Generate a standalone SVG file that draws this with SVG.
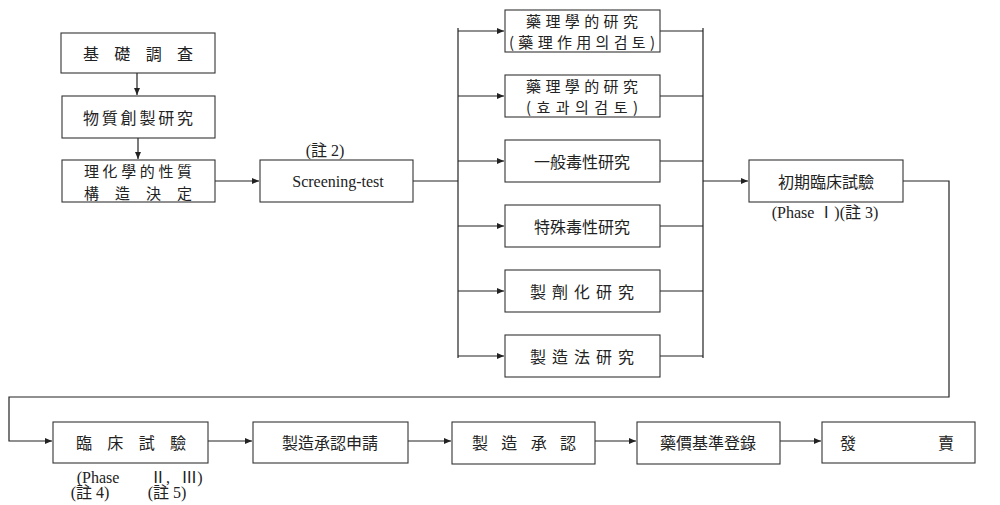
<svg xmlns="http://www.w3.org/2000/svg" width="1000" height="505" viewBox="0 0 1000 505">
<defs>
<marker id="ah" markerWidth="8" markerHeight="8" refX="7" refY="4" orient="auto" markerUnits="userSpaceOnUse">
<path d="M0,1 L7,4 L0,7 Z" fill="#222"/>
</marker>
<style>
.box{fill:#fff;stroke:#333;stroke-width:1.1}
.ln{fill:none;stroke:#222;stroke-width:1.2}
.ar{fill:none;stroke:#222;stroke-width:1.2;marker-end:url(#ah)}
.t{font-family:"Noto Sans CJK KR","Noto Sans CJK TC",sans-serif;font-size:16px;fill:#222;text-anchor:middle;dominant-baseline:central}
.s{font-family:"Noto Sans CJK KR","Noto Sans CJK TC",sans-serif;font-size:15px;fill:#222;text-anchor:middle;dominant-baseline:central}
.l{font-family:"Liberation Serif","Noto Sans CJK KR",serif;font-size:16px;fill:#222;text-anchor:middle;dominant-baseline:central}
</style>
</defs>
<rect width="1000" height="505" fill="#fff"/>
<g id="connectors">
<line class="ar" x1="137" y1="73" x2="137" y2="95"/>
<line class="ar" x1="138" y1="138" x2="138" y2="159"/>
<line class="ar" x1="215" y1="181" x2="259" y2="181"/>
<line class="ln" x1="413" y1="181" x2="458" y2="181"/>
<line class="ln" x1="458" y1="28" x2="458" y2="358"/>
<line class="ar" x1="458" y1="31" x2="504" y2="31"/>
<line class="ar" x1="458" y1="96" x2="504" y2="96"/>
<line class="ar" x1="458" y1="161" x2="504" y2="161"/>
<line class="ar" x1="458" y1="226" x2="504" y2="226"/>
<line class="ar" x1="458" y1="291" x2="504" y2="291"/>
<line class="ar" x1="458" y1="356" x2="504" y2="356"/>
<line class="ln" x1="660" y1="31" x2="703" y2="31"/>
<line class="ln" x1="660" y1="96" x2="703" y2="96"/>
<line class="ln" x1="660" y1="161" x2="703" y2="161"/>
<line class="ln" x1="660" y1="226" x2="703" y2="226"/>
<line class="ln" x1="660" y1="291" x2="703" y2="291"/>
<line class="ln" x1="660" y1="356" x2="703" y2="356"/>
<line class="ln" x1="703" y1="28" x2="703" y2="358"/>
<line class="ar" x1="703" y1="181" x2="748" y2="181"/>
<polyline class="ar" points="903,181 949,181 949,397 9,397 9,441 52,441"/>
<line class="ar" x1="208" y1="441" x2="252" y2="441"/>
<line class="ar" x1="408" y1="441" x2="451" y2="441"/>
<line class="ar" x1="595" y1="441" x2="636" y2="441"/>
<line class="ar" x1="780" y1="441" x2="821" y2="441"/>
</g>
<g id="n1"><rect class="box" x="61" y="33" width="154" height="40"/><text class="t" x="138" y="53" font-size="17" textLength="110" lengthAdjust="spacing">基礎調査</text></g>
<g id="n2"><rect class="box" x="62" y="96" width="153" height="42"/><text class="t" x="138" y="117" font-size="17" textLength="110" lengthAdjust="spacing">物質創製研究</text></g>
<g id="n3"><rect class="box" x="62" y="160" width="153" height="42"/><text class="s" x="138" y="170" font-size="16" textLength="108" lengthAdjust="spacing">理化學的性質</text><text class="s" x="138" y="192" font-size="16" textLength="108" lengthAdjust="spacing">構造決定</text></g>
<g id="n4"><rect class="box" x="260" y="160" width="153" height="42"/><text class="l" x="338" y="181" font-size="17">Screening-test</text><text class="l" x="325" y="150">(註 2)</text></g>
<g id="m1"><rect class="box" x="505" y="10" width="155" height="42"/><text class="s" x="582" y="20" textLength="112" lengthAdjust="spacing">藥理學的研究</text><text class="s" x="582" y="41" textLength="146" lengthAdjust="spacing">(藥理作用의검토)</text></g>
<g id="m2"><rect class="box" x="505" y="75" width="155" height="42"/><text class="s" x="582" y="85" textLength="112" lengthAdjust="spacing">藥理學的研究</text><text class="s" x="582" y="106" textLength="112" lengthAdjust="spacing">(효과의검토)</text></g>
<g id="m3"><rect class="box" x="505" y="140" width="155" height="42"/><text class="t" x="582" y="161">一般毒性研究</text></g>
<g id="m4"><rect class="box" x="505" y="205" width="155" height="42"/><text class="t" x="582" y="226">特殊毒性研究</text></g>
<g id="m5"><rect class="box" x="505" y="270" width="155" height="42"/><text class="t" x="582" y="291" textLength="104" lengthAdjust="spacing">製劑化研究</text></g>
<g id="m6"><rect class="box" x="505" y="335" width="155" height="42"/><text class="t" x="582" y="356" textLength="104" lengthAdjust="spacing">製造法研究</text></g>
<g id="p1"><rect class="box" x="749" y="160" width="154" height="42"/><text class="t" x="826" y="181">初期臨床試驗</text><text class="l" x="825" y="212" font-size="17">(Phase Ⅰ)(註 3)</text></g>
<g id="b1"><rect class="box" x="53" y="422" width="155" height="41"/><text class="t" x="131" y="442" textLength="110" lengthAdjust="spacing">臨床試驗</text><text class="l" x="98" y="477" font-size="17">(Phase</text><text class="l" x="160" y="477" font-size="17">Ⅱ,</text><text class="l" x="192" y="477" font-size="17">Ⅲ)</text><text class="l" x="90" y="492">(註 4)</text><text class="l" x="167" y="492">(註 5)</text></g>
<g id="b2"><rect class="box" x="253" y="422" width="155" height="41"/><text class="t" x="330" y="442">製造承認申請</text></g>
<g id="b3"><rect class="box" x="452" y="422" width="143" height="42"/><text class="t" x="524" y="442" textLength="104" lengthAdjust="spacing">製造承認</text></g>
<g id="b4"><rect class="box" x="637" y="422" width="143" height="42"/><text class="t" x="708" y="442">藥價基準登錄</text></g>
<g id="b5"><rect class="box" x="822" y="422" width="153" height="41"/><text class="t" x="848" y="442">發</text><text class="t" x="946" y="442">賣</text></g>
</svg>
